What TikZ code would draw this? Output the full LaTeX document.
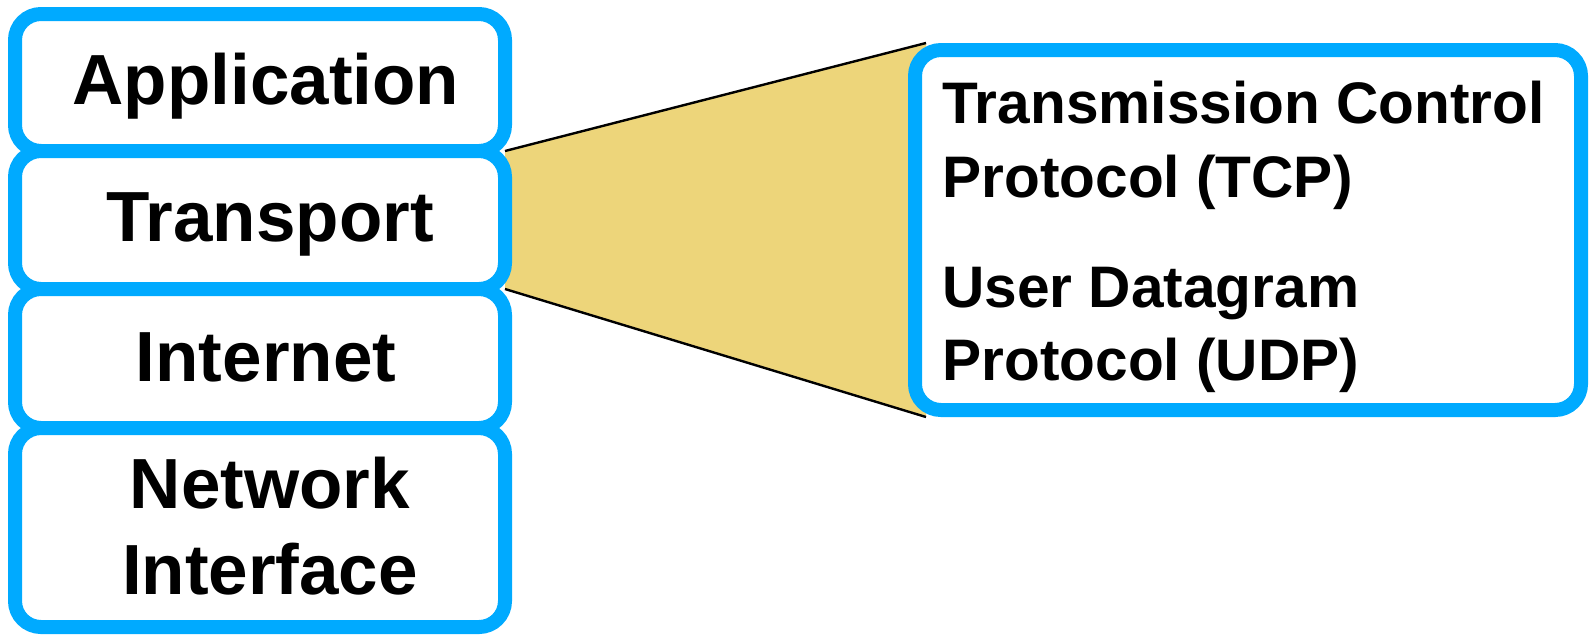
\documentclass[tikz,border=0pt]{standalone}
\usepackage{fontspec}
\setmainfont{Liberation Sans}
\usetikzlibrary{calc,backgrounds}
\definecolor{tcpblue}{RGB}{0,170,255}
\definecolor{fanyellow}{RGB}{237,213,122}
\begin{document}
\begin{tikzpicture}[x=0.5pt,y=-0.5pt,
  layerbox/.style={draw=tcpblue, line width=7pt, rounded corners=13pt, fill=white,
    minimum width=245pt, inner sep=0pt, outer sep=0pt},
  protobox/.style={draw=tcpblue, line width=7pt, rounded corners=13pt, fill=white,
    minimum width=333pt, minimum height=180pt, inner sep=0pt, outer sep=0pt},
  bigtext/.style={font=\fontsize{35.5pt}{42pt}\selectfont\bfseries, anchor=base, inner sep=0pt},
  smalltext/.style={font=\fontsize{29.3pt}{36pt}\selectfont\bfseries, anchor=base west, inner sep=0pt},
  fanedge/.style={draw=black, line width=1.2pt}]
\useasboundingbox (0,0) rectangle (1589,634);
% left stack
\node[layerbox, minimum height=68.5pt] (app) at (260,82.5) {};
\node[layerbox, minimum height=69pt] (trans) at (260,220) {};
\node[layerbox, minimum height=69.5pt] (inet) at (260,358.5) {};
\node[layerbox, minimum height=99.5pt] (nif) at (260,527.5) {};
% protocol box
\node[protobox] (proto) at (1248,230) {};
% fan behind
\begin{scope}[on background layer]
\coordinate (fc) at ($(proto.north west)+(11,-7)$);
\coordinate (fd) at ($(proto.south west)+(11,7)$);
\fill[fanyellow] (trans.north east) -- (fc) -- (fd) -- (trans.south east) -- cycle;
\draw[fanedge] (trans.north east) -- (fc);
\draw[fanedge] (trans.south east) -- (fd);
\end{scope}
% labels
\node[bigtext] (lapp) at (266,104) {Application};
\node[bigtext] (ltrans) at (270,241) {Transport};
\node[bigtext] (linet) at (266,381) {Internet};
\node[bigtext] (lnif1) at (270,508) {Network};
\node[bigtext] (lnif2) at (270,594) {Interface};
\node[smalltext] (t1) at (942,123) {Transmission Control};
\node[smalltext] (t2) at (942,197) {Protocol (TCP)};
\node[smalltext] (t3) at (942,307) {User Datagram};
\node[smalltext] (t4) at (942,380) {Protocol (UDP)};
\end{tikzpicture}
\end{document}
